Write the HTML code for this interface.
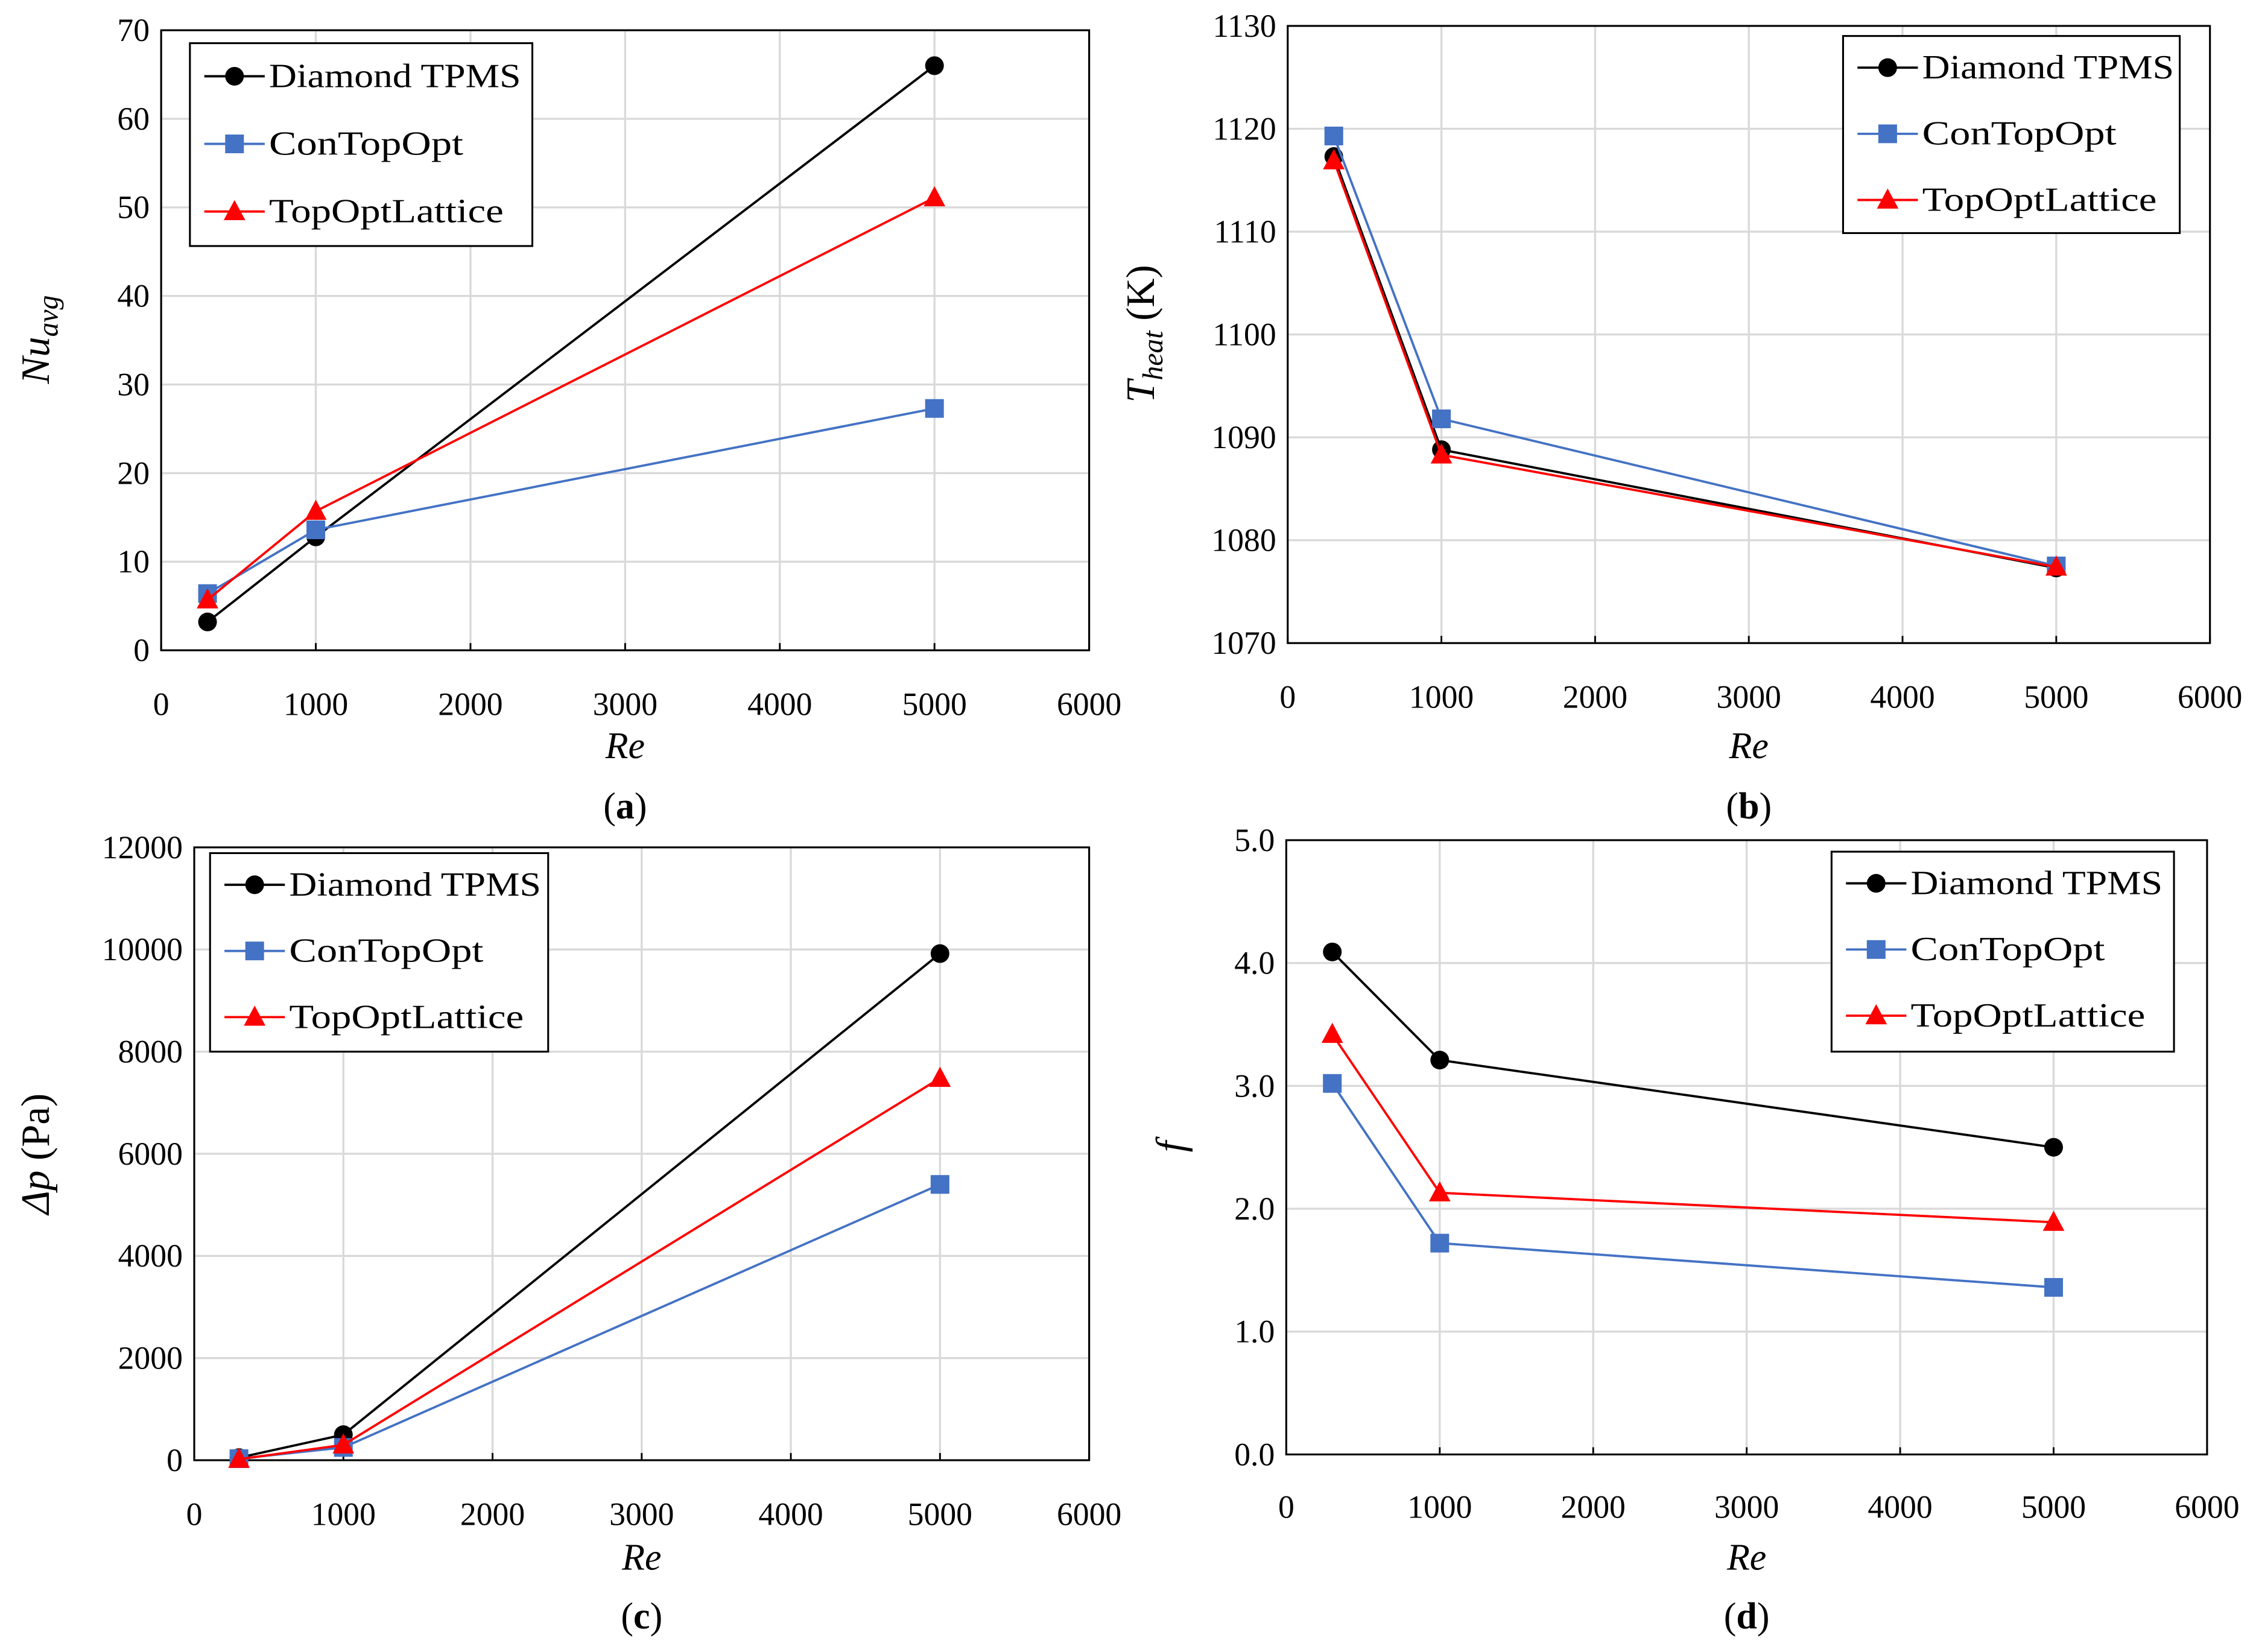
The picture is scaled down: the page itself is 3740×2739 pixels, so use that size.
<!DOCTYPE html>
<html><head><meta charset="utf-8"><style>
html,body{margin:0;padding:0;background:#fff;}
svg{display:block;}
text{font-family:"Liberation Serif",serif;fill:#000;}
</style></head><body>
<svg id="fig" width="3740" height="2739" viewBox="0 0 1568 1148.3" xmlns="http://www.w3.org/2000/svg"></svg>
<script>
const reValues = [300, 1000, 5000];
const seriesNames = ["Diamond TPMS", "ConTopOpt", "TopOptLattice"];
const nuDiamond = [3.2, 12.8, 66.0];
const nuCon = [6.4, 13.6, 27.3];
const nuLattice = [5.7, 15.7, 51.1];
const tDiamond = [1117.3, 1088.8, 1077.3];
const tCon = [1119.3, 1091.8, 1077.5];
const tLattice = [1116.9, 1088.3, 1077.4];
const dpDiamond = [50, 500, 9920];
const dpCon = [30, 250, 5400];
const dpLattice = [20, 300, 7480];
const fDiamond = [4.09, 3.21, 2.50];
const fCon = [3.02, 1.72, 1.36];
const fLattice = [3.42, 2.13, 1.89];
const xTicks = [0, 1000, 2000, 3000, 4000, 5000, 6000];
const nuTicks = [0, 10, 20, 30, 40, 50, 60, 70];
const tTicks = [1070, 1080, 1090, 1100, 1110, 1120, 1130];
const dpTicks = [0, 2000, 4000, 6000, 8000, 10000, 12000];
const fTicks = [0, 1, 2, 3, 4, 5];

const NS = "http://www.w3.org/2000/svg";
const svg = document.getElementById("fig");
function mk(tag, attrs, parent, txt) {
  const e = document.createElementNS(NS, tag);
  for (const k in attrs) e.setAttribute(k, attrs[k]);
  if (txt !== undefined) e.textContent = txt;
  (parent || svg).appendChild(e);
  return e;
}
const colors = ["#000000", "#4472C4", "#FF0000"];

function marker(g, type, x, y, s) {
  let m;
  if (type === 0) m = mk("circle", {cx: x, cy: y, r: 6.5 * s, fill: "#000"}, g);
  else if (type === 1) m = mk("rect", {x: x - 6.5 * s, y: y - 6.5 * s, width: 13 * s, height: 13 * s, fill: "#4472C4"}, g);
  else m = mk("polygon", {points: `${x},${y - 8 * s} ${x + 7.5 * s},${y + 6 * s} ${x - 7.5 * s},${y + 6 * s}`, fill: "#FF0000"}, g);
  return m;
}

function panel(cfg) {
  const g = mk("g", {});
  
  
  const {L, R, T, B, xmin, xmax, ymin, ymax} = cfg;
  const sx = v => L + (v - xmin) / (xmax - xmin) * (R - L);
  const sy = v => B - (v - ymin) / (ymax - ymin) * (B - T);
  xTicks.forEach(v => {
    const gl = mk("line", {x1: sx(v), x2: sx(v), y1: T, y2: B, stroke: "#d9d9d9", "stroke-width": 1.4}, g);
    
    
    const t = mk("text", {x: sx(v), y: cfg.xlabY, "text-anchor": "middle", "font-size": 22.5}, g, String(v));
    
    
    const tk = mk("line", {x1: sx(v), x2: sx(v), y1: B, y2: B - 5, stroke: "#000", "stroke-width": 1.2}, g);
    
    
  });
  cfg.yTicks.forEach(v => {
    const gl = mk("line", {x1: L, x2: R, y1: sy(v), y2: sy(v), stroke: "#d9d9d9", "stroke-width": 1.4}, g);
    
    
    const t = mk("text", {x: L - 8, y: sy(v) + 7.5, "text-anchor": "end", "font-size": 22.5}, g, cfg.fmt(v));
    
    
  });
  const frame = mk("rect", {x: L, y: T, width: R - L, height: B - T, fill: "none", stroke: "#000", "stroke-width": 1.3}, g);
  
  
  cfg.series.forEach((vals, i) => {
    const pts = reValues.map((r, j) => `${sx(r)},${sy(vals[j])}`).join(" ");
    const pl = mk("polyline", {points: pts, fill: "none", stroke: colors[i], "stroke-width": 1.6}, g);
    
    
    reValues.forEach((r, j) => {
      const m = marker(g, i, sx(r), sy(vals[j]), 1);
      
      
    });
  });
  const lg = cfg.legend;
  const lr = mk("rect", {x: lg.x, y: lg.y, width: lg.w, height: lg.h, fill: "#fff", stroke: "#000", "stroke-width": 1.3}, g);
  
  
  seriesNames.forEach((n, i) => {
    const cy = lg.y + lg.first + i * lg.step;
    const ln = mk("line", {x1: lg.x + 10, x2: lg.x + 52, y1: cy, y2: cy, stroke: colors[i], "stroke-width": 1.6}, g);
    
    
    const m = marker(g, i, lg.x + 31, cy, 1);
    
    
    const t = mk("text", {x: lg.x + 55, y: cy + 7.5, "font-size": 23.5, textLength: lg.tl[i], lengthAdjust: "spacingAndGlyphs"}, g, n);
    
    
  });
  const xt = mk("text", {x: (L + R) / 2, y: cfg.reY, "text-anchor": "middle", "font-size": 26, "font-style": "italic"}, g, "Re");
  
  
  const cp = mk("text", {x: (L + R) / 2, y: cfg.capY, "text-anchor": "middle", "font-size": 26}, g);
  
  
  mk("tspan", {}, cp, "(");
  mk("tspan", {"font-weight": "bold"}, cp, cfg.letter);
  mk("tspan", {}, cp, ")");
  const yt = mk("text", {transform: `translate(${cfg.ytX},${cfg.ytY}) rotate(-90)`, "text-anchor": "middle", "font-size": 28}, g);
  
  
  cfg.ytitle(yt);
}

const tlA = [175, 135, 163];

panel({name: "panel-a-nusselt", letter: "a", L: 112, R: 757, T: 21, B: 452, xmin: 0, xmax: 6000, ymin: 0, ymax: 70,
  yTicks: nuTicks, fmt: v => String(v), series: [nuDiamond, nuCon, nuLattice], xlabY: 497, reY: 527, capY: 569,
  legend: {x: 132, y: 30, w: 238, h: 141, first: 23, step: 47, tl: tlA}, ytX: 34, ytY: 236,
  ytitle: t => { mk("tspan", {"font-style": "italic"}, t, "Nu"); mk("tspan", {"font-style": "italic", "font-size": 20, dy: 6}, t, "avg"); }});

panel({name: "panel-b-temperature", letter: "b", L: 895, R: 1536, T: 18, B: 447, xmin: 0, xmax: 6000, ymin: 1070, ymax: 1130,
  yTicks: tTicks, fmt: v => String(v), series: [tDiamond, tCon, tLattice], xlabY: 492, reY: 527, capY: 569,
  legend: {x: 1281, y: 25, w: 234, h: 137, first: 22, step: 46, tl: tlA}, ytX: 802, ytY: 232,
  ytitle: t => { mk("tspan", {"font-style": "italic"}, t, "T"); mk("tspan", {"font-style": "italic", "font-size": 20, dy: 6}, t, "heat"); mk("tspan", {dy: -6}, t, " (K)"); }});

panel({name: "panel-c-pressure-drop", letter: "c", L: 135, R: 757, T: 589, B: 1015, xmin: 0, xmax: 6000, ymin: 0, ymax: 12000,
  yTicks: dpTicks, fmt: v => String(v), series: [dpDiamond, dpCon, dpLattice], xlabY: 1060, reY: 1091, capY: 1132,
  legend: {x: 146, y: 593, w: 235, h: 138, first: 22, step: 46, tl: tlA}, ytX: 34, ytY: 802,
  ytitle: t => { mk("tspan", {"font-style": "italic"}, t, "Δp"); mk("tspan", {}, t, " (Pa)"); }});

panel({name: "panel-d-friction-factor", letter: "d", L: 894, R: 1534, T: 584, B: 1011, xmin: 0, xmax: 6000, ymin: 0, ymax: 5,
  yTicks: fTicks, fmt: v => v.toFixed(1), series: [fDiamond, fCon, fLattice], xlabY: 1055, reY: 1091, capY: 1132,
  legend: {x: 1273, y: 592, w: 238, h: 139, first: 22, step: 46, tl: tlA}, ytX: 823, ytY: 797,
  ytitle: t => { mk("tspan", {"font-style": "italic"}, t, "f"); }});
</script>
</body></html>
